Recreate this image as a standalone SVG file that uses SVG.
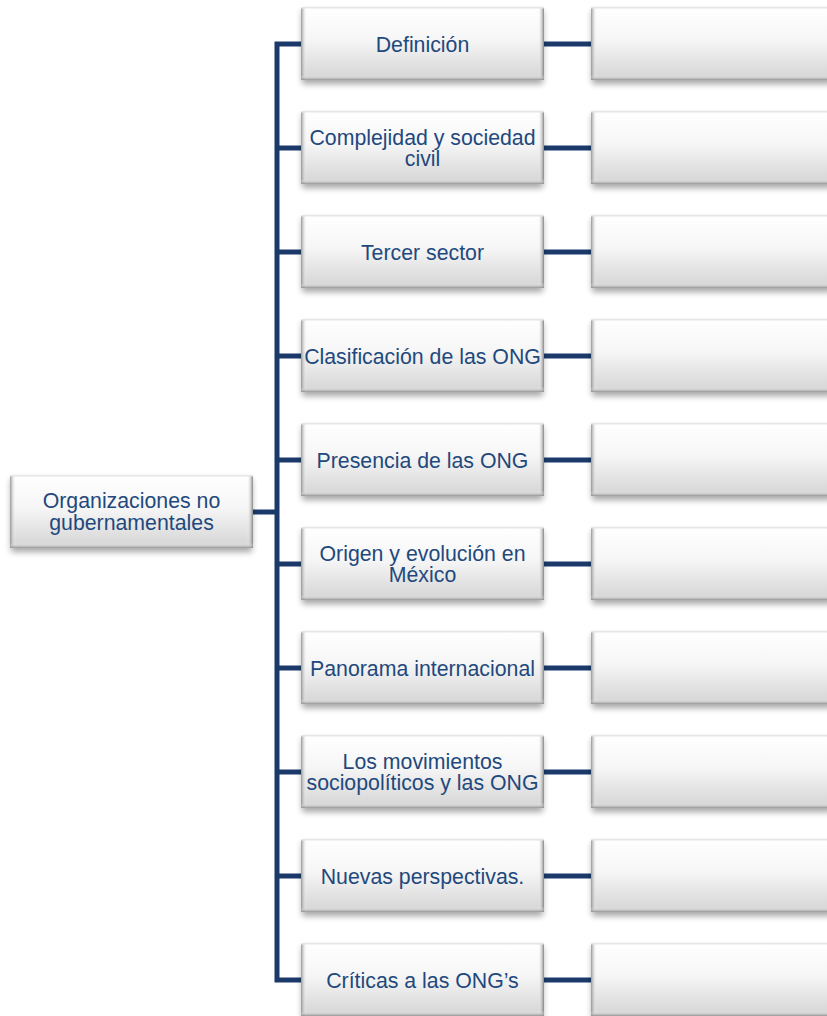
<svg xmlns="http://www.w3.org/2000/svg" xmlns:xlink="http://www.w3.org/1999/xlink" width="827" height="1016" viewBox="0 0 827 1016">
<style>
.lbl{font-family:"Liberation Sans",Arial,sans-serif;font-size:21.3px;fill:#1F497D;text-anchor:middle}
.con{fill:none;stroke:#1B3A6B;stroke-width:5;stroke-linejoin:miter;stroke-linecap:butt}
</style>
<defs>
<linearGradient id="gFill" x1="0" y1="0" x2="0" y2="1">
<stop offset="0" stop-color="#FFFFFF"/>
<stop offset="0.45" stop-color="#F6F6F6"/>
<stop offset="1" stop-color="#D4D4D4"/>
</linearGradient>
<linearGradient id="gL" x1="0" y1="0" x2="1" y2="0">
<stop offset="0" stop-color="#8C8C8C" stop-opacity="0.9"/>
<stop offset="1" stop-color="#FFFFFF" stop-opacity="0"/>
</linearGradient>
<linearGradient id="gR" x1="1" y1="0" x2="0" y2="0">
<stop offset="0" stop-color="#7F7F7F" stop-opacity="0.95"/>
<stop offset="1" stop-color="#FFFFFF" stop-opacity="0"/>
</linearGradient>
<linearGradient id="gB" x1="0" y1="1" x2="0" y2="0">
<stop offset="0" stop-color="#8C8C8C" stop-opacity="0.9"/>
<stop offset="1" stop-color="#FFFFFF" stop-opacity="0"/>
</linearGradient>
<filter id="sh" x="-10%" y="-20%" width="120%" height="160%">
<feGaussianBlur stdDeviation="3"/>
</filter>
<g id="box">
<rect x="1" y="4" width="241" height="73" fill="#000" opacity="0.35" filter="url(#sh)"/>
<rect x="0" y="0" width="243" height="73" fill="url(#gFill)"/>
<rect x="0" y="0" width="6" height="73" fill="url(#gL)"/>
<rect x="237" y="0" width="6" height="73" fill="url(#gR)"/>
<rect x="0" y="68" width="243" height="5" fill="url(#gB)"/>
<rect x="0" y="0" width="243" height="1.5" fill="#E6E6E6"/>
</g>
</defs>
<rect width="827" height="1016" fill="#FFFFFF"/>
<g id="connectors">
<path class="con" d="M253,512 H277"/>
<path class="con" d="M301,44 H277 V980 H301"/>
<path class="con" d="M277,148 H301 M277,252 H301 M277,356 H301 M277,460 H301 M277,564 H301 M277,668 H301 M277,772 H301 M277,876 H301"/>
<path class="con" d="M544,44 H591 M544,148 H591 M544,252 H591 M544,356 H591 M544,460 H591 M544,564 H591 M544,668 H591 M544,772 H591 M544,876 H591 M544,980 H591"/>
</g>
<g id="root"><use href="#box" x="10" y="475"/><text class="lbl" x="131.5" y="508">Organizaciones no</text><text class="lbl" x="131.5" y="529.5">gubernamentales</text></g>
<g id="n1"><use href="#box" x="301" y="7"/><text class="lbl" x="422.5" y="51.5">Definición</text></g>
<g id="n2"><use href="#box" x="301" y="111"/><text class="lbl" x="422.5" y="144.5">Complejidad y sociedad</text><text class="lbl" x="422.5" y="166">civil</text></g>
<g id="n3"><use href="#box" x="301" y="215"/><text class="lbl" x="422.5" y="259.5">Tercer sector</text></g>
<g id="n4"><use href="#box" x="301" y="319"/><text class="lbl" x="422.5" y="363.5">Clasificación de las ONG</text></g>
<g id="n5"><use href="#box" x="301" y="423"/><text class="lbl" x="422.5" y="467.5">Presencia de las ONG</text></g>
<g id="n6"><use href="#box" x="301" y="527"/><text class="lbl" x="422.5" y="560.5">Origen y evolución en</text><text class="lbl" x="422.5" y="582">México</text></g>
<g id="n7"><use href="#box" x="301" y="631"/><text class="lbl" x="422.5" y="675.5">Panorama internacional</text></g>
<g id="n8"><use href="#box" x="301" y="735"/><text class="lbl" x="422.5" y="768.5">Los movimientos</text><text class="lbl" x="422.5" y="790">sociopolíticos y las ONG</text></g>
<g id="n9"><use href="#box" x="301" y="839"/><text class="lbl" x="422.5" y="883.5">Nuevas perspectivas.</text></g>
<g id="n10"><use href="#box" x="301" y="943"/><text class="lbl" x="422.5" y="987.5">Críticas a las ONG’s</text></g>
<g id="r1"><use href="#box" x="591" y="7"/></g>
<g id="r2"><use href="#box" x="591" y="111"/></g>
<g id="r3"><use href="#box" x="591" y="215"/></g>
<g id="r4"><use href="#box" x="591" y="319"/></g>
<g id="r5"><use href="#box" x="591" y="423"/></g>
<g id="r6"><use href="#box" x="591" y="527"/></g>
<g id="r7"><use href="#box" x="591" y="631"/></g>
<g id="r8"><use href="#box" x="591" y="735"/></g>
<g id="r9"><use href="#box" x="591" y="839"/></g>
<g id="r10"><use href="#box" x="591" y="943"/></g>
</svg>
